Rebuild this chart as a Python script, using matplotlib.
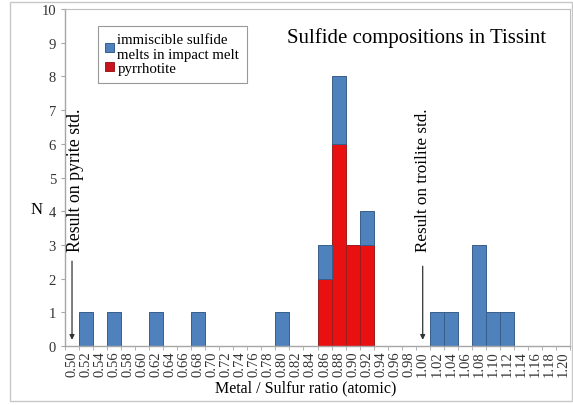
import matplotlib
matplotlib.use("Agg")
import matplotlib.pyplot as plt
import numpy as np
from matplotlib.patches import Patch, Rectangle

# Metal/sulfur ratio categories (x axis)
ratio_labels = ["0.50", "0.52", "0.54", "0.56", "0.58", "0.60", "0.62", "0.64", "0.66",
                "0.68", "0.70", "0.72", "0.74", "0.76", "0.78", "0.80", "0.82", "0.84",
                "0.86", "0.88", "0.90", "0.92", "0.94", "0.96", "0.98", "1.00", "1.02",
                "1.04", "1.06", "1.08", "1.10", "1.12", "1.14", "1.16", "1.18", "1.20"]

# Counts per category
pyrrhotite = [0, 0, 0, 0, 0, 0, 0, 0, 0, 0, 0, 0, 0, 0, 0, 0, 0, 0,
              2, 6, 3, 3, 0, 0, 0, 0, 0, 0, 0, 0, 0, 0, 0, 0, 0, 0]
immiscible = [0, 1, 0, 1, 0, 0, 1, 0, 0, 1, 0, 0, 0, 0, 0, 1, 0, 0,
              1, 2, 0, 1, 0, 0, 0, 0, 1, 1, 0, 3, 1, 1, 0, 0, 0, 0]

y_ticks = [0, 1, 2, 3, 4, 5, 6, 7, 8, 9, 10]

BLUE = "#4f81bd"
RED = "#e81010"
AXIS_GREY = "#a6a6a6"

plt.rcParams["font.family"] = ["Liberation Serif", "DejaVu Serif"]

fig = plt.figure(figsize=(5.73, 4.06), dpi=100)
ax = fig.add_axes([65 / 573, 59 / 406, 505 / 573, 337 / 406])

x = np.arange(len(ratio_labels))
red_bars = ax.bar(x, pyrrhotite, width=1.0, color=RED, edgecolor="#9c1c1c",
                  linewidth=0.7)
blue_bars = ax.bar(x, immiscible, width=1.0, bottom=pyrrhotite, color=BLUE,
                   edgecolor="#385d8a", linewidth=0.7)
# hide zero-height outlines
for rect in list(red_bars) + list(blue_bars):
    if rect.get_height() == 0:
        rect.set_visible(False)

ax.set_xlim(-0.5, len(ratio_labels) - 0.5)
ax.set_ylim(0, 10)
ax.set_xticks(x)
ax.set_xticklabels(ratio_labels, rotation=90, fontsize=10.5, color="#333333")
ax.tick_params(axis="x", which="major", length=0, pad=3)
ax.set_xticks(np.arange(-0.5, len(ratio_labels), 1.0), minor=True)
ax.tick_params(axis="x", which="minor", length=3, color=AXIS_GREY, direction="out")
ax.set_yticks(y_ticks)
ax.tick_params(axis="y", length=3, color=AXIS_GREY, labelsize=10.5, labelcolor="#333333")

for side in ["left", "bottom"]:
    ax.spines[side].set_color(AXIS_GREY)
    ax.spines[side].set_linewidth(1.0)
for side in ["top", "right"]:
    ax.spines[side].set_color("#bfbfbf")
    ax.spines[side].set_linewidth(0.8)

fig.text(306 / 573, 1 - 388 / 406, "Metal / Sulfur ratio (atomic)", fontsize=11.5,
         ha="center", va="center")
fig.text(37 / 573, 1 - 210 / 406, "N", fontsize=12, ha="center", va="center")

fig.text(417 / 573, 1 - 38 / 406, "Sulfide compositions in Tissint",
         fontsize=15, ha="center", va="center")

# standard annotations
arrow = dict(arrowstyle="-|>", color="#333333", lw=0.9, mutation_scale=7)
ax.annotate("", xy=(0, 0.1), xytext=(0, 2.6), arrowprops=arrow)
ax.text(0.25, 2.82, "Result on pyrite std.", rotation=90, fontsize=12.8,
        ha="center", va="bottom")
ax.annotate("", xy=(25, 0.1), xytext=(25, 2.45), arrowprops=arrow)
ax.text(25.0, 2.82, "Result on troilite std.", rotation=90, fontsize=12.3,
        ha="center", va="bottom")

handles = [Patch(facecolor=BLUE, edgecolor="#385d8a", linewidth=0.7),
           Patch(facecolor="#c8141e", edgecolor="#9c1c1c", linewidth=0.7)]
leg = fig.legend(handles, ["immiscible sulfide\nmelts in impact melt", "pyrrhotite"],
                 loc="upper left", bbox_to_anchor=(98 / 573, 1 - 27 / 406),
                 fontsize=10.7, frameon=True, fancybox=False, handlelength=0.55,
                 handleheight=0.55, handletextpad=0.25, borderpad=0.5,
                 labelspacing=0.05, borderaxespad=0)
leg.get_frame().set_edgecolor("#808080")
leg.get_frame().set_linewidth(0.8)

# outer chart border
fig.patches.append(Rectangle((10 / 573, 4 / 406), 562 / 573, 399 / 406,
                             transform=fig.transFigure, fill=False,
                             edgecolor="#c8c8c8", linewidth=1.0))

fig.savefig("out.png", dpi=100)
